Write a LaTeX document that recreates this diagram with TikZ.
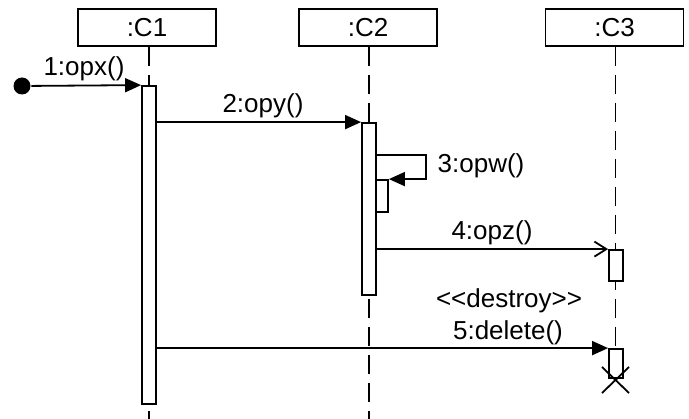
\documentclass[tikz,border=0pt]{standalone}
\usepackage{fontspec}
\setmainfont{Liberation Sans}
\usetikzlibrary{arrows.meta}

\begin{document}
\begin{tikzpicture}[x=1pt,y=-1pt,line width=1.8pt,
  objbox/.style={draw,minimum width=138pt,minimum height=37pt,inner sep=0pt,font=\fontsize{26}{30}\selectfont},
  lifeline/.style={dash pattern=on 19pt off 9pt},
  act/.style={draw,fill=white,inner sep=0pt,minimum width=14pt},
  sync/.style={-{Triangle[length=16pt,width=14pt]}},
  async/.style={-{Straight Barb[length=12pt,width=15pt]}},
  msg/.style={anchor=base,inner sep=0pt,font=\fontsize{26}{30}\selectfont},
  startdot/.style={circle,fill,inner sep=0pt,minimum size=17pt}]
\useasboundingbox (0,0) rectangle (689,419);
\node[objbox] (c1) at (147,27.5) {:C1};
\node[objbox] (c2) at (368,27.5) {:C2};
\node[objbox] (c3) at (614.5,27.5) {:C3};
\coordinate (e1) at (149,419); \coordinate (e2) at (369,419);
\coordinate (x3) at (615.5,380);
\draw[lifeline] (e1 |- c1.south) -- (e1);
\draw[lifeline] (e2 |- c2.south) -- (e2);
\draw[lifeline] (x3 |- c3.south) -- (x3);
\node[act,minimum height=318pt] (a1) at (149,245) {};
\node[act,minimum height=172pt] (a2) at (369,209) {};
\node[act,minimum width=12pt,minimum height=32pt] (a3) at (382,196) {};
\node[act,minimum height=31pt] (a4) at (616,265.5) {};
\node[act,minimum height=29pt] (a5) at (616,363.5) {};
\draw (x3) ++(-13.5,-13) -- ++(27,26) (x3) ++(13.5,-13) -- ++(-27,26);
\node[startdot] (s0) at (22,86) {};
\draw[sync] (s0) -- (a1.north west);
\draw[sync] (a1.east |- a2.north) -- (a2.north west);
\draw[sync] (a2.east |- 0,155) -- ++(49,0) |- (a3.north east);
\draw[async] (a2.east |- a4.north) -- (a4.north west);
\draw[sync] (a1.east |- a5.north) -- (a5.north west);
\node[msg] (l1) at (84,76) {1:opx()};
\node[msg] (l2) at (263,113) {2:opy()};
\node[msg] (l3) at (481,173) {3:opw()};
\node[msg] (l4) at (492,240) {4:opz()};
\node[msg] (ld) at (509,308) {<{}<destroy>{}>};
\node[msg] (l5) at (508,340) {5:delete()};
\end{tikzpicture}
\end{document}
